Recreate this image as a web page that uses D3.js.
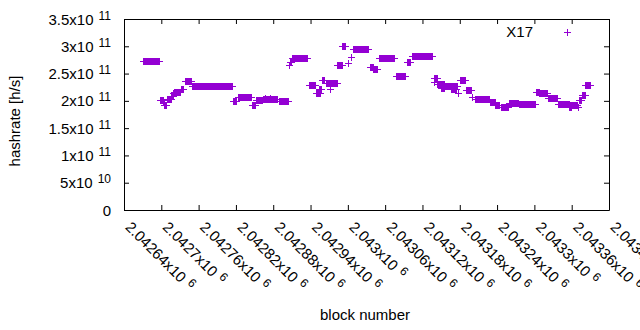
<!DOCTYPE html>
<html lang="en">
<head>
<meta charset="UTF-8">
<title>hashrate</title>
<script src="https://d3js.org/d3.v7.min.js"></script>
<style>
  body{margin:0;background:#fff;}
  svg text{font-family:"Liberation Sans",Arial,sans-serif;font-size:15px;fill:#000;}
</style>
</head>
<body>
<div id="chart"></div>
<script>
// runs of consecutive blocks that share the same hashrate estimate
const runStart=[2042671,2042698,2042703,2042705,2042709,2042716,2042718,2042720,2042732,2042738,
  2042749,2042815,2042823,2042846,2042852,2042864,2042867,2042874,2042889,2042906,
  2042907,2042910,2042938,2042949,2042953,2042958,2042965,2042971,2042983,2042991,
  2043001,2043005,2043008,2043036,2043041,2043050,2043078,2043095,2043103,2043138,
  2043139,2043144,2043150,2043156,2043166,2043177,2043180,2043190,2043199,2043204,
  2043229,2043237,2043246,2043259,2043275,2043302,2043308,2043322,2043338,2043357,
  2043355,2043370,2043372,2043377,2043382];
const runEnd=[2042696,2042702,2042704,2042708,2042715,2042719,2042718,2042730,2042735,2042748,
  2042814,2042820,2042844,2042851,2042862,2042886,2042867,2042874,2042904,2042906,
  2042908,2042934,2042947,2042955,2042957,2042962,2042983,2042971,2042991,2042995,
  2043001,2043005,2043032,2043040,2043047,2043074,2043092,2043100,2043135,2043138,
  2043143,2043155,2043155,2043176,2043174,2043177,2043188,2043198,2043199,2043227,
  2043236,2043243,2043257,2043274,2043301,2043307,2043320,2043336,2043356,2043368,
  2043359,2043370,2043375,2043381,2043389];
const runHashrate=[2.73e11,2.02e11,1.97e11,1.93e11,2.04e11,2.09e11,2.15e11,2.17e11,2.22e11,2.364e11,
  2.273e11,1.99e11,2.068e11,1.93e11,2.01e11,2.04e11,2.06e11,2.06e11,2.0e11,2.65e11,
  2.71e11,2.78e11,2.29e11,2.15e11,2.21e11,2.38e11,2.33e11,2.22e11,2.66e11,3.0e11,
  2.69e11,2.80e11,2.95e11,2.62e11,2.59e11,2.78e11,2.45e11,2.71e11,2.815e11,2.35e11,
  2.41e11,2.30e11,2.24e11,2.28e11,2.22e11,2.15e11,2.39e11,2.20e11,2.07e11,2.04e11,
  1.98e11,1.92e11,1.89e11,1.96e11,1.95e11,2.17e11,2.145e11,2.06e11,1.94e11,1.925e11,
  1.89e11,1.886e11,2.02e11,2.11e11,2.29e11];
const xTicks=[2042640,2042700,2042760,2042820,2042880,2042940,2043000,2043060,2043120,2043180,2043240,2043300,2043360,2043420];
const yTicks=[0,5e10,1e11,1.5e11,2e11,2.5e11,3e11,3.5e11];
const seriesName="X17";

const width=640,height=330;
const plotLeft=124,plotRight=609,plotTop=19,plotBottom=210;
const color="#9400d3";

const svg=d3.select('#chart').append('svg')
  .attr('width',width)
  .attr('height',height);

const x=d3.scaleLinear().domain([2042640,2043420]).range([plotLeft,plotRight]);
const y=d3.scaleLinear().domain([0,3.5e11]).range([plotBottom,plotTop]);

// border with inward ticks on all four sides
const noText=g=>g.selectAll('text').remove();
svg.append('g').attr('transform',`translate(0,${plotBottom})`)
  .call(d3.axisBottom(x).tickValues(xTicks).tickSizeInner(-5).tickSizeOuter(0)).call(noText);
svg.append('g').attr('transform',`translate(0,${plotTop})`)
  .call(d3.axisTop(x).tickValues(xTicks).tickSizeInner(-5).tickSizeOuter(0)).call(noText);
svg.append('g').attr('transform',`translate(${plotLeft},0)`)
  .call(d3.axisLeft(y).tickValues(yTicks).tickSizeInner(-5).tickSizeOuter(0)).call(noText);
svg.append('g').attr('transform',`translate(${plotRight},0)`)
  .call(d3.axisRight(y).tickValues(yTicks).tickSizeInner(-5).tickSizeOuter(0)).call(noText);
svg.selectAll('.domain,.tick line').attr('stroke','#000');

const fmt=d3.format('.6~g');
function sci(v){
  if(v===0) return null;
  const e=Math.floor(Math.log10(v)+1e-9);
  return {m:fmt(v/Math.pow(10,e)),e:e};
}

// y tick labels
yTicks.forEach(d=>{
  const t=svg.append('text').attr('x',111).attr('y',y(d)+5.5).attr('text-anchor','end');
  const s=sci(d);
  if(!s){t.text('0');return;}
  t.append('tspan').text(s.m+'x10');
  t.append('tspan').attr('dx',5).attr('dy',-5).style('font-size','12px').text(s.e);
});

// x tick labels, rotated (the last one runs off the right edge, as in the original)
xTicks.forEach(d=>{
  const s=sci(d);
  const t=svg.append('text')
    .attr('transform',`translate(${x(d)+0.5},228) rotate(45)`);
  t.append('tspan').text(s.m+'x10');
  t.append('tspan').attr('dx',5).attr('dy',-5).style('font-size','12px').text(s.e);
});

svg.append('text').attr('transform','translate(20,121) rotate(-90)')
  .attr('text-anchor','middle').text('hashrate [h/s]');
svg.append('text').attr('x',365).attr('y',320)
  .attr('text-anchor','middle').text('block number');

// points: every run of "+" markers becomes a filled band with the arms sticking out
const runs=runStart.map((s,i)=>({s:s,e:runEnd[i],v:runHashrate[i]}));
const px=d=>Math.round(x(d));
const py=d=>Math.round(y(d));
const pts=svg.append('g');
pts.selectAll('rect').data(runs).join('rect')
  .attr('x',d=>px(d.s))
  .attr('width',d=>px(d.e)-px(d.s)+1)
  .attr('y',d=>py(d.v)-3)
  .attr('height',7)
  .attr('fill',color);
pts.selectAll('line').data(runs).join('line')
  .attr('x1',d=>px(d.s)-3)
  .attr('x2',d=>px(d.e)+4)
  .attr('y1',d=>py(d.v)+0.5)
  .attr('y2',d=>py(d.v)+0.5)
  .attr('stroke',color);

// key
svg.append('text').attr('x',533).attr('y',37).attr('text-anchor','end').text(seriesName);
const key=svg.append('g').attr('stroke',color);
key.append('line').attr('x1',564).attr('x2',571).attr('y1',32.5).attr('y2',32.5);
key.append('line').attr('x1',567.5).attr('x2',567.5).attr('y1',29).attr('y2',36);
</script>
</body>
</html>
